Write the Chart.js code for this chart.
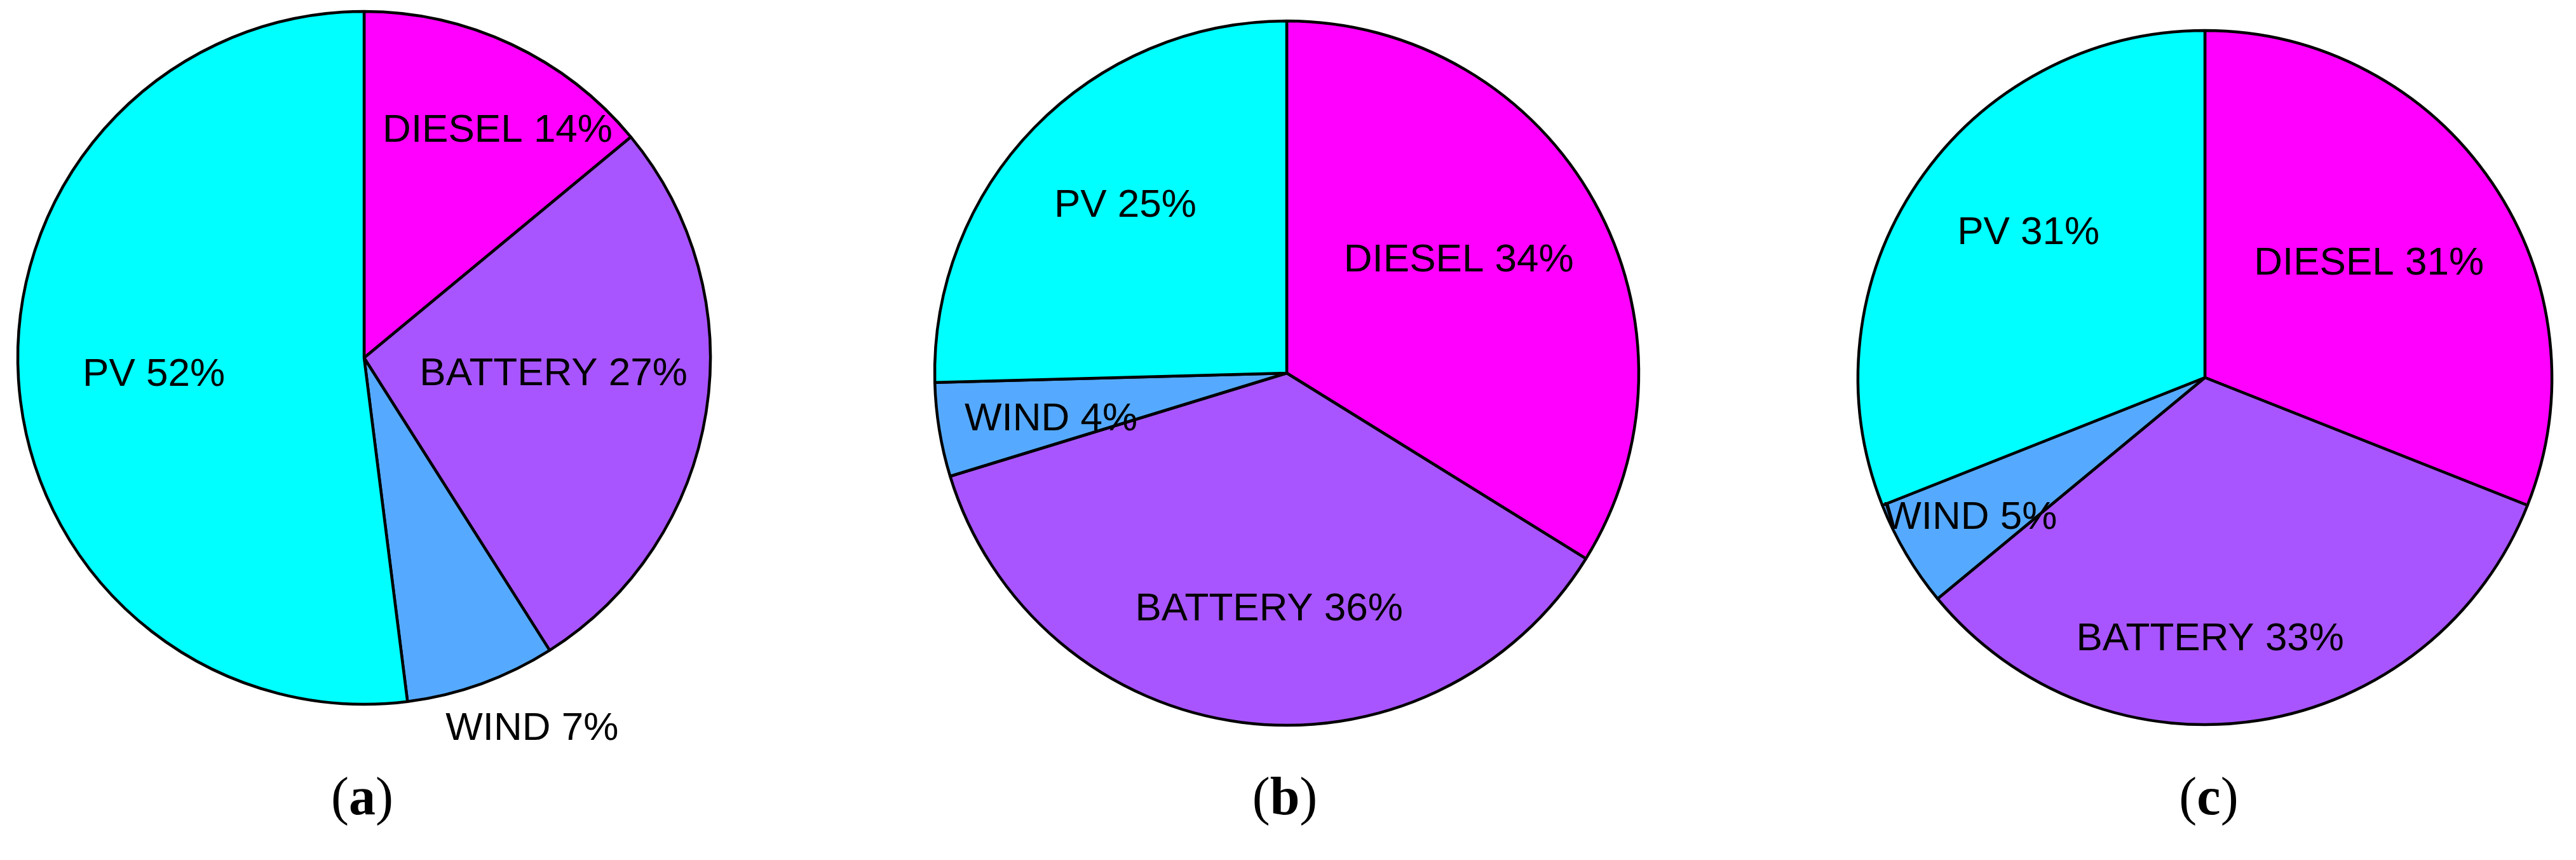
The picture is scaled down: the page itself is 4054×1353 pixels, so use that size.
<!DOCTYPE html>
<html lang="en">
<head>
<meta charset="UTF-8">
<title>Energy share by source</title>
<script src="https://cdn.jsdelivr.net/npm/chart.js@4"></script>
<style>
  * { box-sizing: border-box; margin: 0; padding: 0; }
  body { width: 4054px; height: 1353px; background: #fff; position: relative; overflow: hidden; }
  .pie { position: absolute; width: 1300px; height: 1300px; }
  .cap { position: absolute; top: 1203px; width: 200px; margin-left: -100px; text-align: center;
         font-family: 'Liberation Serif', 'Times New Roman', serif; font-size: 84px; line-height: 100px; color: #000; }
</style>
</head>
<body>
  <div class="pie" style="left:-77px;top:-87px"><canvas id="pieA"></canvas></div>
  <div class="pie" style="left:1375px;top:-63px"><canvas id="pieB"></canvas></div>
  <div class="pie" style="left:2820px;top:-56px"><canvas id="pieC"></canvas></div>
  <div class="cap" style="left:570px">(<b>a</b>)</div>
  <div class="cap" style="left:2022px">(<b>b</b>)</div>
  <div class="cap" style="left:3476px">(<b>c</b>)</div>
<script>
// slices go clockwise from 12 o'clock
const categories = ['DIESEL', 'BATTERY', 'WIND', 'PV'];
const sliceColors = ['#ff00ff', '#a855ff', '#55aaff', '#00ffff'];

const shareA = [14, 27, 7, 52];
const shareB = [33.8, 36.4, 4.3, 25.4];
const shareC = [31, 33, 5, 31];

// where each label sits, relative to the pie centre, in units of the radius
const labelSpots = {
  pieA: [[0.384, -0.653], [0.545, 0.048], [0.483, 1.068], [-0.605, 0.049]],
  pieB: [[0.487, -0.318], [-0.050, 0.669], [-0.667, 0.131], [-0.457, -0.473]],
  pieC: [[0.471, -0.327], [0.015, 0.752], [-0.673, 0.403], [-0.507, -0.414]]
};

const sliceLabels = {
  id: 'sliceLabels',
  afterDatasetsDraw(chart, args, opts) {
    const ctx = chart.ctx;
    const arcs = chart.getDatasetMeta(0).data;
    const values = chart.data.datasets[0].data;
    ctx.save();
    ctx.fillStyle = '#000';
    ctx.font = '62px "Liberation Sans", Arial, sans-serif';
    ctx.textAlign = 'center';
    ctx.textBaseline = 'middle';
    arcs.forEach((arc, i) => {
      const r = arc.outerRadius + 2;
      const [dx, dy] = opts.spots[i];
      const text = chart.data.labels[i] + ' ' + Math.round(values[i]) + '%';
      ctx.fillText(text, arc.x + dx * r, arc.y + dy * r);
    });
    ctx.restore();
  }
};

function makePie(id, values, radius) {
  new Chart(document.getElementById(id), {
    type: 'pie',
    data: {
      labels: categories,
      datasets: [{
        data: values,
        backgroundColor: sliceColors,
        borderColor: '#000',
        borderWidth: 4.5,
        radius: radius
      }]
    },
    options: {
      responsive: true,
      maintainAspectRatio: false,
      animation: false,
      layout: { padding: 0 },
      plugins: {
        legend: { display: false },
        tooltip: { enabled: false },
        sliceLabels: { spots: labelSpots[id] }
      }
    },
    plugins: [sliceLabels]
  });
}

makePie('pieA', shareA, 545);
makePie('pieB', shareB, 554);
makePie('pieC', shareC, 546);
</script>
</body>
</html>
